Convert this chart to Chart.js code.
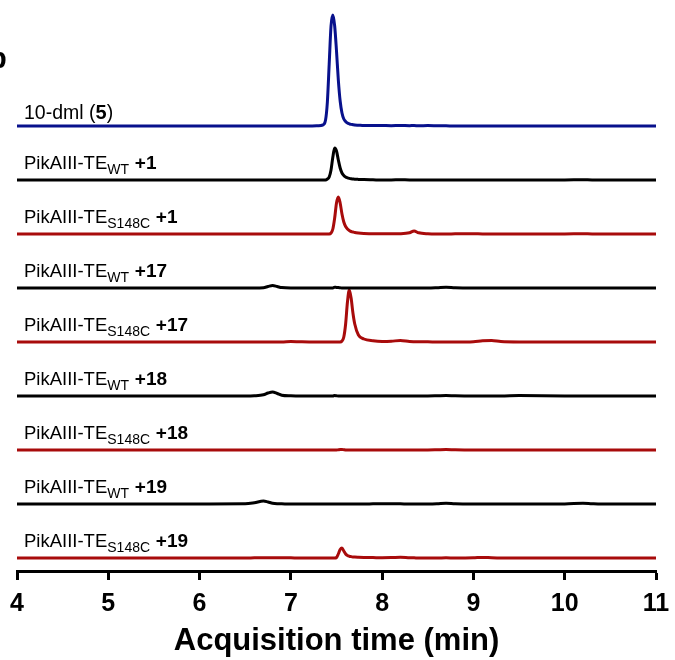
<!DOCTYPE html>
<html><head><meta charset="utf-8">
<script src="https://cdn.jsdelivr.net/npm/chart.js@4.4.1/dist/chart.umd.min.js"></script>
<style>html,body{margin:0;padding:0;background:#fff}#wrap{width:675px;height:660px;position:relative}</style>
</head><body><div id="wrap"><canvas id="c" width="675" height="660"></canvas></div>
<script>
// Acquisition time grid (min)
const timeMin = [4.0,5.0,6.0,6.5,6.6,6.7,6.75,6.8,6.85,6.9,7.0,7.1,7.2,7.3,7.35,7.38,7.4,7.42,7.44,7.46,7.48,7.5,7.52,7.54,7.56,7.58,7.6,7.62,7.64,7.66,7.68,7.7,7.74,7.8,7.9,8.0,8.1,8.2,8.3,8.35,8.4,8.5,8.6,8.7,8.8,9.0,9.1,9.2,9.3,9.5,10.0,10.2,10.3,10.4,11.0];
// Signal intensities (arbitrary units), one per trace
const dml5     = [0,0,0,0,0,0,0,0,0,0,0,0,0,0.3,1,6,24,62,100,111,100,75,46,25,13,7,4.5,3,2.2,1.6,1.3,1,0.8,0.5,0.6,0.5,0.3,0.6,0.3,0.5,0.2,0.4,0.3,0.2,0,0,0,0,0,0,0,0,0,0,0];
const wt1      = [0,0,0,0,0,0,0,0,0,0,0,0,0,0,0,0,1,3,10,23,32,29,20,12,7,4.5,3,2.2,1.6,1.2,1,0.8,0.6,0.4,0.2,0,0,0.3,0,0,0,0,0,0,0,0,0,0,0,0,0,0.3,0,0,0];
const s148c1   = [0,0,0,0,0,0,0,0,0,0,0,0,0,0,0,0,0,0,1,5,16,31,37,31,20,12,7.5,5,3.5,2.5,2,1.5,1,0.6,0.3,0.3,0.2,0.3,1.2,3,1.2,0.2,0,0,0.2,0.3,0,0,0,0,0,0.3,0,0,0];
const wt17     = [0,0,0,0,0,0.3,1.5,2.5,1.5,0.4,0,0,0,0,0,0,0,0,0,0,0.8,0.6,0.5,0.2,0,0,0,0,0,0,0,0,0,0,0,0,0,0,0,0,0,0,0.3,0.8,0.2,0,0,0,0,0,0,0,0,0,0];
const s148c17  = [0,0,0,0,0,0,0,0,0,0,0.5,0.2,0,0,0,0,0,0,0,0,0,0,0,0,1,5,18,40,52,44,29,18,7,3,1.2,0.6,0.8,1.5,0.5,0.3,0.2,0.2,0,0,0,0.3,1.2,1.5,0.4,0,0,0,0,0,0];
const wt18     = [0,0,0,0,0.2,1.2,3,4,2.5,0.8,0.2,0,0,0,0,0,0,0,0,0,0.4,0.2,0,0,0,0,0,0,0,0,0,0,0,0,0,0,0,0,0,0,0,0,0.2,0.5,0.2,0,0,0,0,0.4,0,0,0,0,0];
const s148c18  = [0,0,0,0,0,0,0,0,0,0,0,0,0,0,0,0,0,0,0,0,0,0,0.2,0.4,0.5,0.3,0,0,0,0,0,0,0,0,0,0,0,0,0,0,0,0,0.2,0.5,0.2,0,0,0,0,0,0,0,0,0,0];
const wt19     = [0,0,0,0.2,1.3,3,2,0.8,0.3,0.2,0,0,0,0,0,0,0,0,0,0,0,0,0,0,0,0,0,0,0,0,0,0,0,0,0.2,0.3,0.3,0.2,0,0,0,0,0.2,0.8,0.2,0,0,0,0,0,0,0.8,0.3,0,0];
const s148c19  = [0,0,0,0,0.2,0.3,0.3,0.3,0.3,0.3,0.2,0,0,0,0,0,0,0,0,0,0,0.5,4,8.5,10,7,4,2.5,1.8,1.4,1.1,0.9,0.7,0.5,0.4,0.3,0.4,0.8,0.3,0.2,0,0,0,0.2,0,0.2,0.6,0.2,0,0,0,0,0,0,0];
// Tick labels
const xTicks = [4,5,6,7,8,9,10,11];
// Trace labels: [text, style] segments (n normal, b bold, s subscript)
const traceLabels = [
  [['10-dml (','n'],['5','b'],[')','n']],
  [['PikAIII-TE','n'],['WT','s'],[' +1','b']],
  [['PikAIII-TE','n'],['S148C','s'],[' +1','b']],
  [['PikAIII-TE','n'],['WT','s'],[' +17','b']],
  [['PikAIII-TE','n'],['S148C','s'],[' +17','b']],
  [['PikAIII-TE','n'],['WT','s'],[' +18','b']],
  [['PikAIII-TE','n'],['S148C','s'],[' +18','b']],
  [['PikAIII-TE','n'],['WT','s'],[' +19','b']],
  [['PikAIII-TE','n'],['S148C','s'],[' +19','b']]
];
const traces = [dml5, wt1, s148c1, wt17, s148c17, wt18, s148c18, wt19, s148c19];
const colors = ['#08118c','#000000','#a80b0b','#000000','#a80b0b','#000000','#a80b0b','#000000','#a80b0b'];

// stacking layout
const BASE = 13, STEP = 54;
const offsets = traces.map((_, i) => BASE + STEP * (traces.length - 1 - i));
const FAM = '"Liberation Sans", Arial, Helvetica, sans-serif';

const datasets = traces.map((vals, i) => ({
  data: timeMin.map((t, k) => ({x: t, y: offsets[i] + vals[k]})),
  borderColor: colors[i],
  borderWidth: 3,
  pointRadius: 0,
  fill: false,
  cubicInterpolationMode: 'monotone',
  borderCapStyle: 'butt',
  borderJoinStyle: 'round'
}));

const labelPlugin = {
  id: 'traceLabels',
  afterDatasetsDraw(chart) {
    const ctx = chart.ctx, ys = chart.scales.y;
    ctx.save();
    ctx.fillStyle = '#000';
    ctx.textAlign = 'left';
    ctx.textBaseline = 'alphabetic';
    traceLabels.forEach((parts, i) => {
      const base = ys.getPixelForValue(offsets[i]);
      const yy = base - (i === 0 ? 7 : 11);
      const main = i === 0 ? 19.5 : 18.5;
      let x = 24;
      parts.forEach(([txt, st]) => {
        ctx.font = st === 'b' ? `bold ${main + 0.5}px ${FAM}` : st === 's' ? `14px ${FAM}` : `${main}px ${FAM}`;
        ctx.fillText(txt, x, st === 's' ? yy + 5 : yy);
        x += ctx.measureText(txt).width + (st === 's' ? 0.5 : 0);
      });
    });
    ctx.font = `bold 29px ${FAM}`;
    ctx.fillText('b', -11, 68);
    ctx.restore();
  }
};

new Chart(document.getElementById('c'), {
  type: 'line',
  data: {datasets},
  plugins: [labelPlugin],
  options: {
    responsive: false,
    animation: false,
    devicePixelRatio: 1,
    layout: {padding: {left: 17, right: 19, top: 0, bottom: 0}},
    plugins: {legend: {display: false}, tooltip: {enabled: false}},
    scales: {
      x: {
        type: 'linear', min: 4, max: 11,
        afterBuildTicks: (s) => { s.ticks = xTicks.map(v => ({value: v})); },
        afterFit: (s) => { s.height = 89; s.paddingLeft = 0; s.paddingRight = 0; s.paddingTop = 0; s.paddingBottom = 0; },
        grid: {display: true, drawOnChartArea: false, drawTicks: true, tickLength: 9, tickWidth: 3, tickColor: '#000'},
        border: {display: true, width: 3, color: '#000'},
        ticks: {color: '#000', padding: 9, font: {family: FAM, size: 25, weight: 'bold'}, maxRotation: 0},
        title: {display: true, text: 'Acquisition time (min)', color: '#000', padding: {top: 0, bottom: 0}, font: {family: FAM, size: 31, weight: 'bold'}}
      },
      y: {display: false, min: 0, max: 571}
    }
  }
});
</script>
</body></html>
